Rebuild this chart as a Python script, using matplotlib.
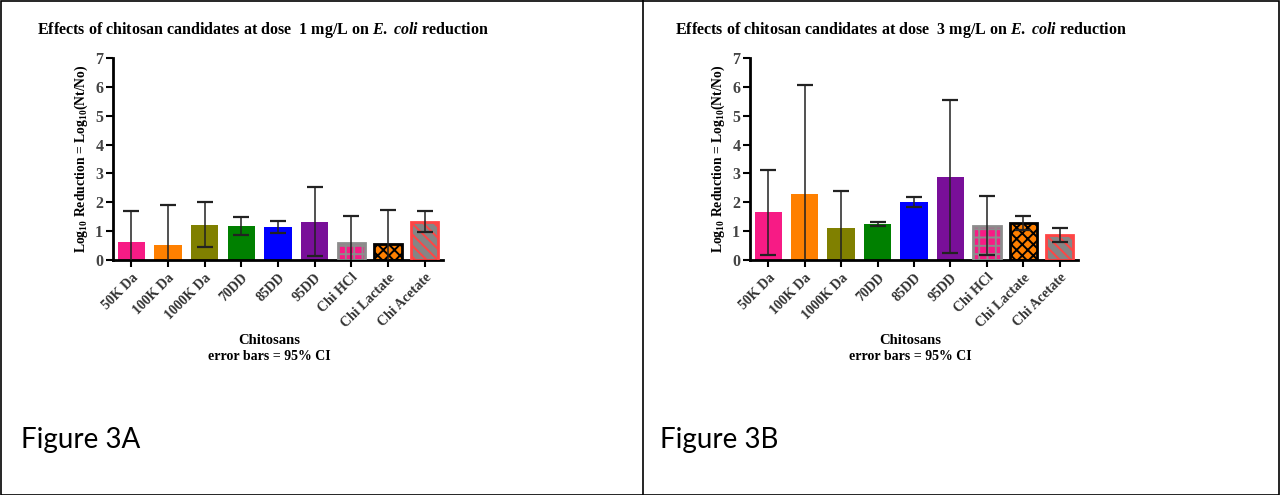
import matplotlib.pyplot as plt
import matplotlib.patches as mpatches
from matplotlib.lines import Line2D

plt.rcParams['font.family'] = 'Liberation Serif'
plt.rcParams['mathtext.fontset'] = 'custom'
plt.rcParams['mathtext.rm'] = 'Liberation Serif:bold'
plt.rcParams['mathtext.it'] = 'Liberation Serif:bold:italic'
plt.rcParams['mathtext.bf'] = 'Liberation Serif:bold'
plt.rcParams['mathtext.default'] = 'rm'
plt.rcParams['hatch.linewidth'] = 1.4

categories = ['50K Da', '100K Da', '1000K Da', '70DD', '85DD', '95DD',
              'Chi HCl', 'Chi Lactate', 'Chi Acetate']

# dose 1 mg/L
mean_1 = [0.64, 0.52, 1.22, 1.19, 1.15, 1.33, 0.59, 0.57, 1.33]
ci_1 = [1.07, 1.40, 0.78, 0.31, 0.20, 1.20, 0.93, 1.18, 0.36]

# dose 3 mg/L
mean_3 = [1.65, 2.30, 1.10, 1.26, 2.00, 2.89, 1.19, 1.28, 0.87]
ci_3 = [1.48, 3.77, 1.28, 0.07, 0.17, 2.65, 1.03, 0.23, 0.24]

face = ['#F71B85', '#FF8000', '#808000', '#008000', '#0000FF', '#790F99',
        '#F71B85', '#FF8000', '#858585']
hatch = [None, None, None, None, None, None, '++', 'xxx', '\\\\\\']
hatch_col = [None, None, None, None, None, None, '#8C8C8C', '#000000', '#FF4545']
edge = [None, None, None, None, None, None, '#8C8C8C', '#000000', '#FF4545']

W, H = 1280, 495
fig = plt.figure(figsize=(12.8, 4.95), dpi=100)


def draw_panel(ax, means, cis, title, x_title):
    x = range(len(categories))
    for i in x:
        if hatch[i] is None:
            ax.bar(i, means[i], width=0.75, color=face[i], edgecolor='none', zorder=2)
        else:
            ax.bar(i, means[i], width=0.75, color=face[i], edgecolor=hatch_col[i],
                   hatch=hatch[i], linewidth=0, zorder=2)
            ax.bar(i, means[i], width=0.75, fill=False, edgecolor=edge[i],
                   linewidth=2, zorder=3)
    eb = ax.errorbar(list(x), means, yerr=cis, fmt='none', ecolor='#222222',
                     elinewidth=1.1, capsize=6, capthick=1.6, zorder=4)
    for cap in eb[1]:
        cap.set_color('black')
    ax.set_xlim(-0.5, 8.5)
    ax.set_ylim(0, 7)
    ax.set_yticks(range(8))
    ax.set_xticks(list(x))
    ax.set_xticklabels(categories, rotation=45, ha='right', rotation_mode='anchor',
                       fontsize=10, fontweight='bold', color='#333333')
    for lab in ax.get_yticklabels():
        lab.set_fontweight('bold')
    ax.tick_params(axis='y', labelsize=11.5, colors='#000000', labelcolor='#444444',
                   width=1.5, length=5, pad=2)
    ax.tick_params(axis='x', width=1.5, length=5, pad=3)
    for s in ['top', 'right']:
        ax.spines[s].set_visible(False)
    for s in ['left', 'bottom']:
        ax.spines[s].set_linewidth(2)
    ax.set_ylabel(r'Log$_{10}$ Reduction = Log$_{10}$(Nt/No)', fontsize=9.8,
                  fontweight='bold', labelpad=4)
    fig.text(x_title / W, 1 - 30 / H, title, fontsize=11.5, fontweight='bold',
             ha='left', va='center')


axA = fig.add_axes([113 / W, 1 - 260 / H, 330 / W, 202 / H])
draw_panel(axA, mean_1, ci_1,
           r'Effects of chitosan candidates at dose  1 mg/L on $\mathit{E.\ coli}$ reduction', 37)
axB = fig.add_axes([750 / W, 1 - 260 / H, 328 / W, 202 / H])
draw_panel(axB, mean_3, ci_3,
           r'Effects of chitosan candidates at dose  3 mg/L on $\mathit{E.\ coli}$ reduction', 675)

for cx in [269, 910]:
    fig.text(cx / W, 1 - 340 / H, 'Chitosans', fontsize=10.5, fontweight='bold',
             ha='center', va='center')
    fig.text(cx / W, 1 - 357 / H, 'error bars = 95% CI', fontsize=10,
             fontweight='bold', ha='center', va='center')

fig.text(21 / W, 1 - 440 / H, 'Figure 3A', fontsize=20, family='Lato',
         ha='left', va='center')
fig.text(660 / W, 1 - 440 / H, 'Figure 3B', fontsize=20, family='Lato',
         ha='left', va='center')

# table borders
fig.add_artist(mpatches.Rectangle((0.5 / W, 0.5 / H), (W - 1.5) / W, (H - 1.5) / H,
                                  transform=fig.transFigure, fill=False,
                                  edgecolor='black', linewidth=1.2))
fig.add_artist(Line2D([643 / W, 643 / W], [0, 1], transform=fig.transFigure,
                      color='black', linewidth=1.2))

fig.savefig('out.png', dpi=100)
